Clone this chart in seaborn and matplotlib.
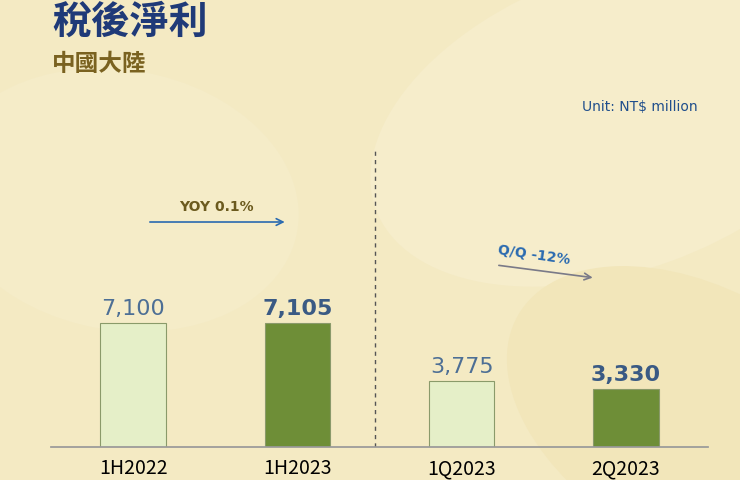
import matplotlib
matplotlib.use("Agg")
import matplotlib.pyplot as plt
import seaborn as sns
import pandas as pd
from matplotlib.patches import Ellipse

categories = ["1H2022", "1H2023", "1Q2023", "2Q2023"]
values = [7100, 7105, 3775, 3330]
value_labels = ["7,100", "7,105", "3,775", "3,330"]
bold_flags = [False, True, False, True]

sns.set_theme(style="white")
plt.rcParams['font.family'] = ['Noto Sans CJK TC', 'DejaVu Sans']

bg = "#f4eac3"
fig = plt.figure(figsize=(7.4, 4.8), dpi=100, facecolor=bg)
bgax = fig.add_axes([0, 0, 1, 1], zorder=-10)
bgax.set_xlim(0, 740); bgax.set_ylim(480, 0); bgax.axis("off")
bgax.add_patch(Ellipse((620, 120), 520, 300, angle=-20, color="#f6edcb", lw=0))
bgax.add_patch(Ellipse((700, 420), 420, 260, angle=30, color="#f2e6ba", lw=0))
bgax.add_patch(Ellipse((120, 200), 360, 260, angle=10, color="#f5ecc8", lw=0))

ax = fig.add_axes([0.0689, 0.06875, 0.8878, 0.74375])
ax.set_facecolor("none")
df = pd.DataFrame({"cat": categories, "val": values})
colors = ["#e5efc8", "#6e8e37", "#e5efc8", "#6e8e37"]
sns.barplot(data=df, x="cat", y="val", hue="cat", palette=colors, legend=False,
            width=0.4, ax=ax, edgecolor="#8a9a6a", linewidth=0.8, saturation=1)
ax.set_xlim(-0.5, 3.5)
ax.set_ylim(0, 20440)
ax.set_xlabel(""); ax.set_ylabel("")
ax.set_yticks([])
for s in ["top", "right", "left"]:
    ax.spines[s].set_visible(False)
ax.spines["bottom"].set_color("#999999")
ax.tick_params(axis="x", labelsize=14, colors="black", length=0, pad=8)

for i, (v, lab, b) in enumerate(zip(values, value_labels, bold_flags)):
    ax.annotate(lab, (i, v), xytext=(0, 3), textcoords="offset points",
                ha="center", va="bottom", fontsize=16,
                fontweight="bold" if b else "normal",
                color="#3a5a84" if b else "#4d6f95", family="DejaVu Sans")

ax.plot([1.475, 1.475], [0, 17005], ls=(0, (3, 3)), color="#555555", lw=1)

ax.annotate("", xy=(0.94, 12882), xytext=(0.085, 12882),
            arrowprops=dict(arrowstyle="->", color="#2a6ab0", lw=1.2))
ax.text(0.51, 13741, "YOY 0.1%", ha="center", va="center", fontsize=10,
        fontweight="bold", color="#6b5a1e", family="DejaVu Sans")
ax.annotate("", xy=(2.815, 9676), xytext=(2.21, 10420),
            arrowprops=dict(arrowstyle="->", color="#7a7a88", lw=1.2))
ax.text(2.44, 10993, "Q/Q -12%", ha="center", va="center", fontsize=10,
        fontweight="bold", color="#2a6ab0", rotation=-8, family="DejaVu Sans")

fig.text(52/740, 1 - 22/480, "稅後淨利", fontsize=28, fontweight="bold",
         color="#1f3a78", va="center", ha="left")
fig.text(52/740, 1 - 64/480, "中國大陸", fontsize=17, fontweight="bold",
         color="#7a6220", va="center", ha="left")
fig.text(698/740, 1 - 107/480, "Unit: NT$ million", fontsize=10,
         color="#1f4e8c", va="center", ha="right", family="DejaVu Sans")

fig.savefig("out.png", dpi=100, facecolor=bg)
